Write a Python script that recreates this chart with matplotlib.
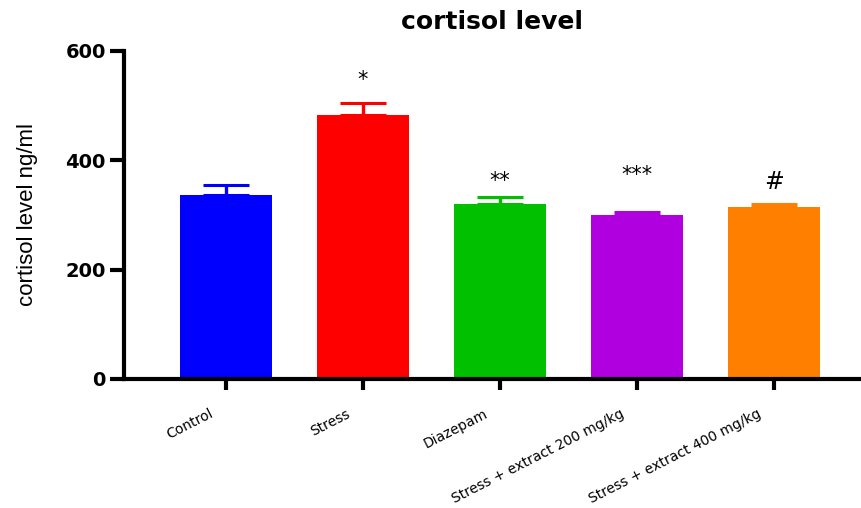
import matplotlib
matplotlib.use("Agg")
import matplotlib.pyplot as plt
from matplotlib import font_manager

groups = ["Control", "Stress", "Diazepam", "Stress + extract 200 mg/kg", "Stress + extract 400 mg/kg"]
means = [336, 482, 320, 300, 315]
sems = [18, 22, 13, 5, 5]
marks = ["", "*", "**", "***", "#"]
mark_y = [0, 528, 344, 354, 339]
colors = ["#0000ff", "#ff0000", "#00c000", "#b000e0", "#ff8000"]
yticks = [0, 200, 400, 600]

names = {f.name for f in font_manager.fontManager.ttflist}
narrow = "Liberation Sans Narrow" if "Liberation Sans Narrow" in names else "Liberation Sans"

fig = plt.figure(figsize=(8.61, 5.08), dpi=100)
ax = fig.add_axes([0.144, 0.254, 0.855, 0.646])

x = list(range(len(groups)))
ax.bar(x, means, width=0.67, color=colors, zorder=2)
for xi, m, s, c in zip(x, means, sems, colors):
    ax.errorbar(xi, m, yerr=[[0], [s]], color=c, capsize=16.5, capthick=2.2,
                elinewidth=2.4, zorder=1)

for xi, y, t in zip(x, mark_y, marks):
    if t:
        fs = 17 if t == "#" else 15
        ax.text(xi, y, t, ha="center", va="bottom", fontsize=fs,
                family="DejaVu Sans")

ax.set_xlim(-0.745, 4.63)
ax.set_ylim(0, 600)
ax.set_yticks(yticks)
ax.set_yticklabels([str(v) for v in yticks], fontsize=14, fontweight="bold",
                   family="DejaVu Sans")
ax.set_xticks(x)
ax.set_xticklabels([])
# group names, slanted and ending just left of each tick
for xi, g in zip(x, groups):
    ax.annotate(g, xy=(xi, 0), xycoords=("data", "axes fraction"),
                xytext=(-12, -20), textcoords="offset points",
                rotation=27, ha="right", va="top", rotation_mode="anchor",
                fontsize=10, family="DejaVu Sans")

for side in ("top", "right"):
    ax.spines[side].set_visible(False)
for side in ("left", "bottom"):
    ax.spines[side].set_linewidth(3)
ax.tick_params(axis="y", length=10, width=3, pad=3)
ax.tick_params(axis="x", length=8, width=3)

ax.set_ylabel("cortisol level ng/ml", fontsize=16, family=narrow, labelpad=20)
ax.set_title("cortisol level", fontsize=18, fontweight="bold",
             family="DejaVu Sans", pad=16)

fig.savefig("out.png", dpi=100)
